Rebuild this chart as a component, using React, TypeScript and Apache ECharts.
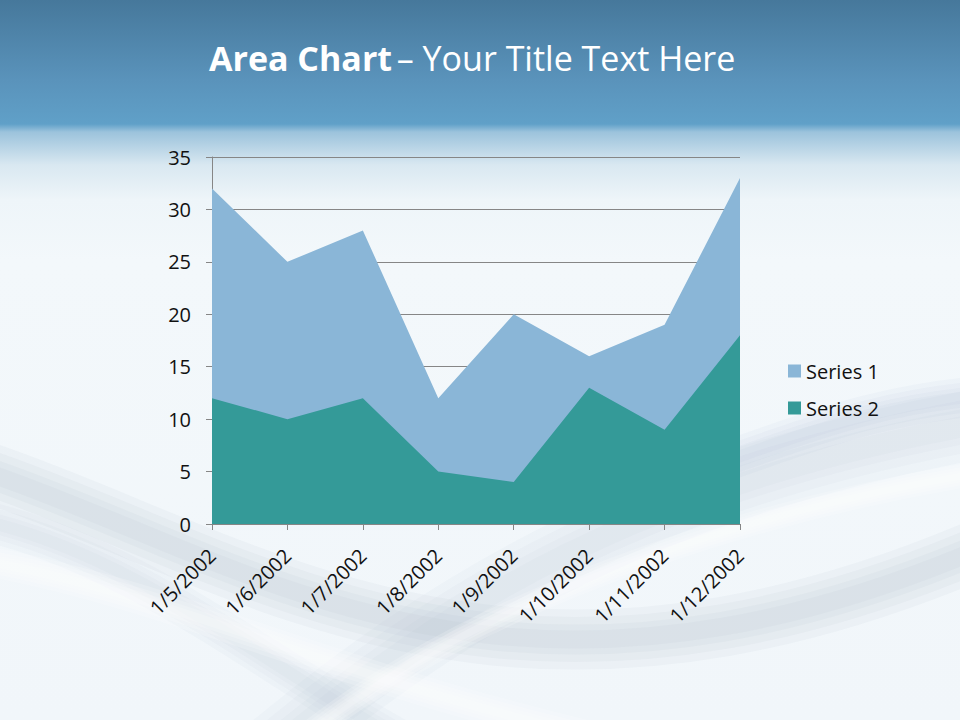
import React, { useEffect, useRef } from "react";
import * as echarts from "echarts";

const categories = ["1/5/2002", "1/6/2002", "1/7/2002", "1/8/2002", "1/9/2002", "1/10/2002", "1/11/2002", "1/12/2002"];
const series1 = [32, 25, 28, 12, 20, 16, 19, 33];
const series2 = [12, 10, 12, 5, 4, 13, 9, 18];
const yTicks = { min: 0, max: 35, interval: 5 };

const FONT = "'Open Sans', 'Noto Sans', sans-serif";

function softBand(pts: number[][], width: number, rgb: string, alpha: number) {
  const layers = [1, 0.75, 0.5, 0.3];
  return layers.map((f) => ({
    type: "bezierCurve",
    silent: true,
    z: -10,
    shape: {
      x1: pts[0][0], y1: pts[0][1],
      cpx1: pts[1][0], cpy1: pts[1][1],
      cpx2: pts[2][0], cpy2: pts[2][1],
      x2: pts[3][0], y2: pts[3][1],
    },
    style: { stroke: `rgba(${rgb},${alpha})`, lineWidth: width * f, fill: null, lineCap: "butt" },
  }));
}

export default function App() {
  const ref = useRef<HTMLDivElement>(null);
  useEffect(() => {
    if (!ref.current) return;
    const chart = echarts.init(ref.current, undefined, { renderer: "svg" });
    const bands = [
      ...softBand([[-20, 470], [250, 560], [500, 760], [1000, 540]], 60, "150,168,190", 0.07),
      ...softBand([[-20, 520], [160, 560], [300, 700], [480, 780]], 40, "170,185,205", 0.06),
      ...softBand([[260, 760], [450, 600], [650, 480], [1000, 420]], 70, "175,190,210", 0.06),
      ...softBand([[700, 470], [790, 440], [880, 400], [1000, 395]], 40, "160,178,200", 0.06),
      ...softBand([[-20, 560], [200, 600], [350, 690], [700, 760]], 30, "255,255,255", 0.18),
      ...softBand([[300, 740], [500, 580], [800, 500], [1000, 470]], 24, "255,255,255", 0.18),
    ];
    chart.setOption({
      animation: false,
      textStyle: { fontFamily: FONT },
      title: {
        text: "{b|Area Chart} {n|– Your Title Text Here}",
        left: 204,
        top: 36,
        textStyle: {
          rich: {
            b: { fontFamily: FONT, fontWeight: "bold", fontSize: 34, color: "#ffffff" },
            n: { fontFamily: FONT, fontWeight: "normal", fontSize: 34, color: "#ffffff" },
          },
        },
      },
      graphic: bands,
      legend: {
        orient: "vertical",
        left: 783,
        top: 356,
        icon: "rect",
        itemWidth: 13,
        itemHeight: 13,
        itemGap: 17,
        textStyle: { fontFamily: FONT, fontSize: 20, color: "#111111" },
        data: ["Series 1", "Series 2"],
      },
      grid: { left: 212, right: 220, top: 157, bottom: 196, containLabel: false },
      xAxis: {
        type: "category",
        data: categories,
        boundaryGap: false,
        axisLine: { show: true, lineStyle: { color: "#868686", width: 1 } },
        axisTick: { show: true, alignWithLabel: true, length: 6, lineStyle: { color: "#868686" } },
        axisLabel: { rotate: 45, margin: 28, fontFamily: FONT, fontSize: 20, color: "#111111" },
        splitLine: { show: false },
      },
      yAxis: {
        type: "value",
        min: yTicks.min,
        max: yTicks.max,
        interval: yTicks.interval,
        axisLine: { show: true, lineStyle: { color: "#868686", width: 1 } },
        axisTick: { show: true, length: 6, lineStyle: { color: "#868686" } },
        axisLabel: { margin: 21, fontFamily: FONT, fontSize: 20, color: "#111111" },
        splitLine: { show: true, lineStyle: { color: "#868686", width: 1 } },
      },
      series: [
        {
          name: "Series 1",
          type: "line",
          data: series1,
          symbol: "none",
          lineStyle: { width: 0 },
          itemStyle: { color: "#8ab6d7" },
          areaStyle: { color: "#8ab6d7", opacity: 1 },
          z: 2,
        },
        {
          name: "Series 2",
          type: "line",
          data: series2,
          symbol: "none",
          lineStyle: { width: 0 },
          itemStyle: { color: "#349a98" },
          areaStyle: { color: "#349a98", opacity: 1 },
          z: 3,
        },
      ],
    });
    return () => chart.dispose();
  }, []);
  return (
    <div
      ref={ref}
      style={{
        position: "absolute",
        left: 0,
        top: 0,
        width: 960,
        height: 720,
        background:
          "linear-gradient(to bottom, #46789b 0px, #5a93bb 80px, #60a0c8 124px, #9cc3dc 132px, #d9e8f1 165px, #eef5f9 200px, #f3f8fb 260px, #f1f6fa 720px)",
      }}
    />
  );
}
